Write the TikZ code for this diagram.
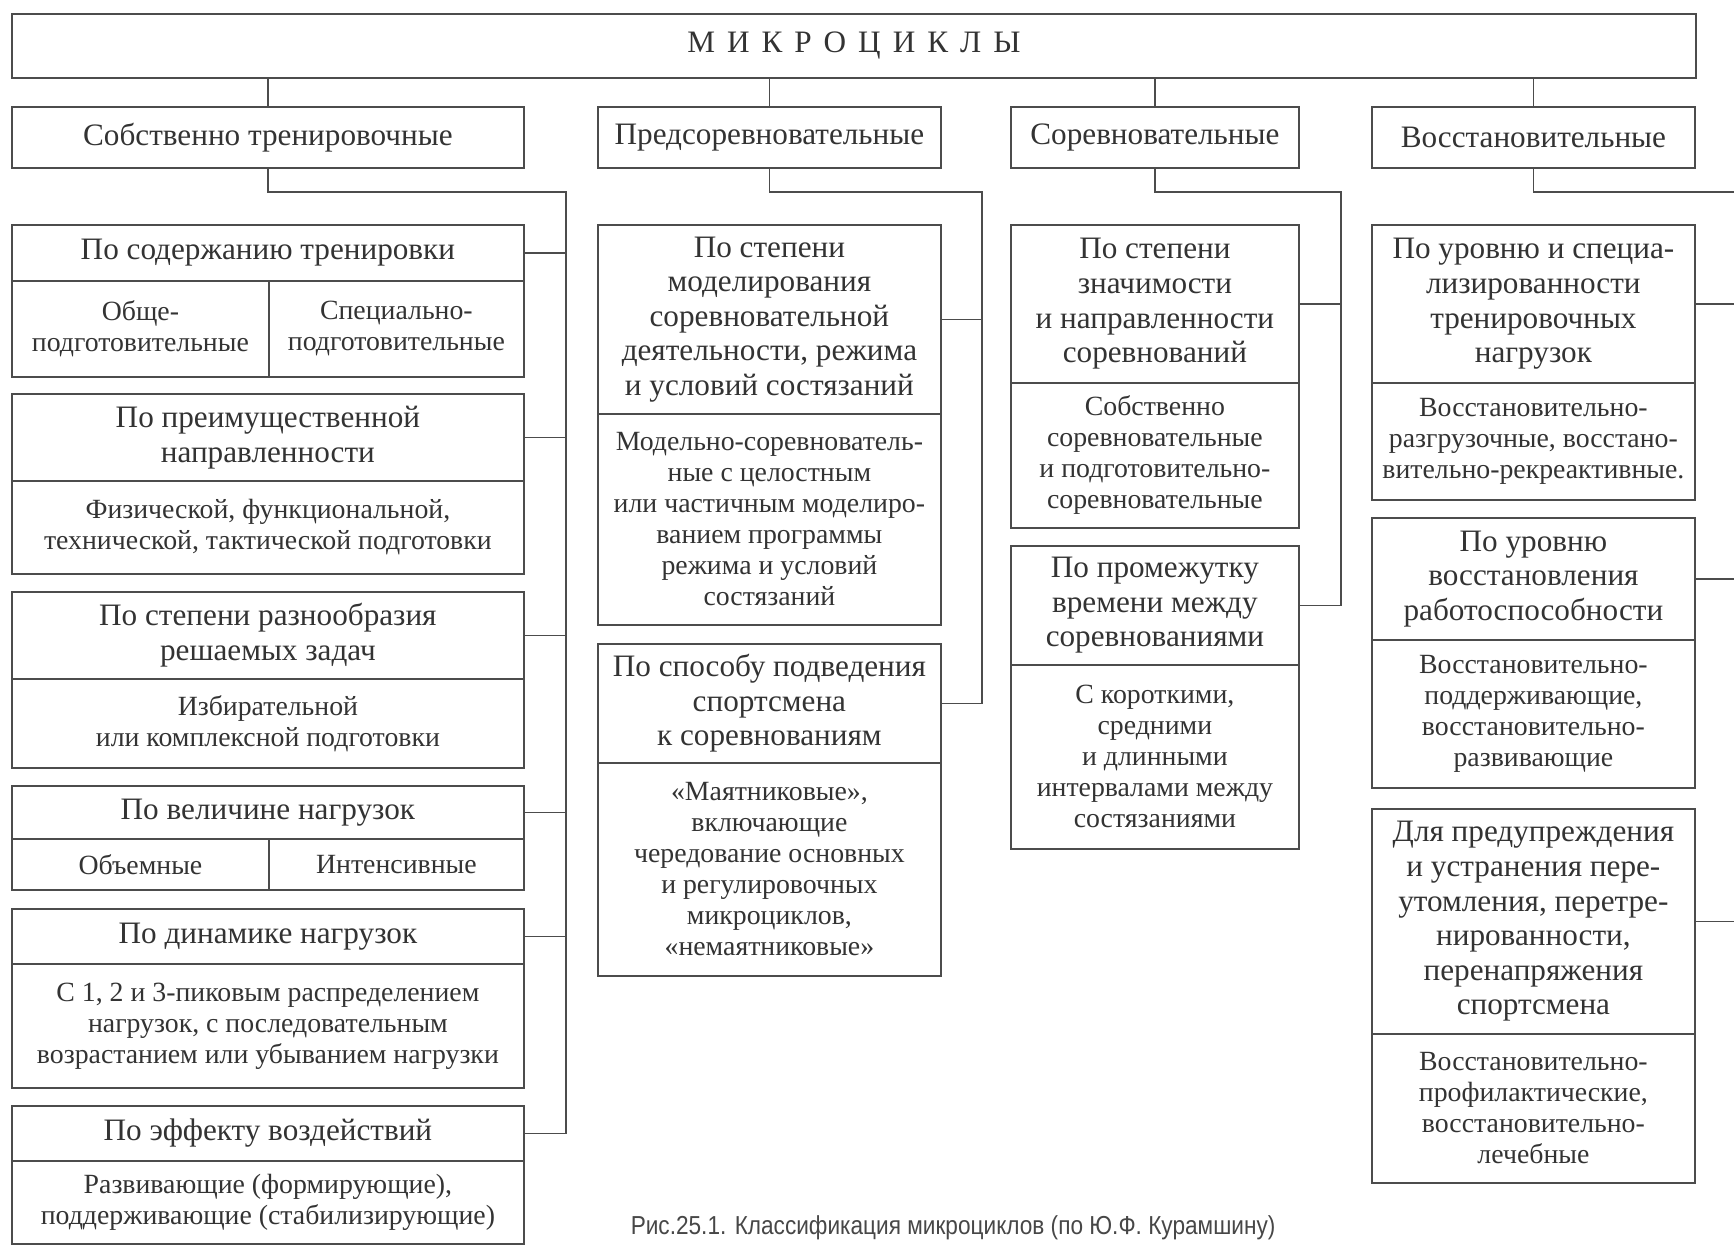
\documentclass[tikz,border=0pt]{standalone}
\usepackage{fontspec}
\setmainfont{Liberation Serif}
\newfontfamily\capfont{Liberation Sans}
\usepackage{graphicx}
\newcommand\lsp{\hspace{6pt}}
\newcommand\mybox[7]{%
  \pgfmathsetmacro\myw{(#5-#3)*0.5}%
  \pgfmathsetmacro\myh{(#6-#4)*0.5}%
  \node[#2, anchor=north west, minimum width=\myw pt, minimum height=\myh pt] (#1) at (#3,#4) {#7};}
\tikzset{
  ln/.style={draw=black!70, line width=0.9pt},
  hdr/.style={ln, rectangle, inner sep=0pt, align=center, text=black!80,
    font=\fontsize{15.6}{17.3}\selectfont},
  cnt/.style={ln, rectangle, inner sep=0pt, align=center, text=black!80,
    font=\fontsize{13.9}{15.5}\selectfont},
  conn/.style={draw=black!70, line width=0.9pt},
}
\begin{document}
\begin{tikzpicture}[x=0.5pt,y=-0.5pt]
\fill[white] (0,0) rectangle (1734,1246);
\useasboundingbox (0,0) rectangle (1734,1246);

% title and level 1
\mybox{title}{hdr}{11}{13}{1695}{77}{М\lsp И\lsp К\lsp Р\lsp О\lsp Ц\lsp И\lsp К\lsp Л\lsp Ы}
\mybox{l1a}{hdr}{11}{106}{523}{167}{Собственно тренировочные}
\mybox{l1b}{hdr}{597}{106}{940}{167}{Предсоревновательные}
\mybox{l1c}{hdr}{1010}{106}{1298}{167}{Соревновательные}
\mybox{l1d}{hdr}{1371}{106}{1694}{167}{Восстановительные}

% column 1
\mybox{a1h}{hdr}{11}{224}{523}{280}{По содержанию тренировки}
\mybox{a1l}{cnt}{11}{280}{268}{376}{Обще-\\подготовительные}
\mybox{a1r}{cnt}{268}{280}{523}{376}{Специально-\\подготовительные}
\mybox{a2h}{hdr}{11}{393}{523}{480}{По преимущественной\\направленности}
\mybox{a2c}{cnt}{11}{480}{523}{573}{Физической, функциональной,\\технической, тактической подготовки}
\mybox{a3h}{hdr}{11}{591}{523}{678}{По степени разнообразия\\решаемых задач}
\mybox{a3c}{cnt}{11}{678}{523}{767}{Избирательной\\или комплексной подготовки}
\mybox{a4h}{hdr}{11}{785}{523}{838}{По величине нагрузок}
\mybox{a4l}{cnt}{11}{838}{268}{889}{Объемные}
\mybox{a4r}{cnt}{268}{838}{523}{889}{Интенсивные}
\mybox{a5h}{hdr}{11}{908}{523}{963}{По динамике нагрузок}
\mybox{a5c}{cnt}{11}{963}{523}{1087}{С 1, 2 и 3-пиковым распределением\\нагрузок, с последовательным\\возрастанием или убыванием нагрузки}
\mybox{a6h}{hdr}{11}{1105}{523}{1160}{По эффекту воздействий}
\mybox{a6c}{cnt}{11}{1160}{523}{1243}{Развивающие (формирующие),\\поддерживающие (стабилизирующие)}

% column 2
\mybox{b1h}{hdr}{597}{224}{940}{413}{По степени\\моделирования\\соревновательной\\деятельности, режима\\и условий состязаний}
\mybox{b1c}{cnt}{597}{413}{940}{624}{Модельно-соревнователь-\\ные с целостным\\или частичным моделиро-\\ванием программы\\режима и условий\\состязаний}
\mybox{b2h}{hdr}{597}{643}{940}{762}{По способу подведения\\спортсмена\\к соревнованиям}
\mybox{b2c}{cnt}{597}{762}{940}{975}{«Маятниковые»,\\включающие\\чередование основных\\и регулировочных\\микроциклов,\\«немаятниковые»}

% column 3
\mybox{c1h}{hdr}{1010}{224}{1298}{382}{По степени\\значимости\\и направленности\\соревнований}
\mybox{c1c}{cnt}{1010}{382}{1298}{527}{Собственно\\соревновательные\\и подготовительно-\\соревновательные}
\mybox{c2h}{hdr}{1010}{545}{1298}{664}{По промежутку\\времени между\\соревнованиями}
\mybox{c2c}{cnt}{1010}{664}{1298}{848}{С короткими,\\средними\\и длинными\\интервалами между\\состязаниями}

% column 4
\mybox{d1h}{hdr}{1371}{224}{1694}{382}{По уровню и специа-\\лизированности\\тренировочных\\нагрузок}
\mybox{d1c}{cnt}{1371}{382}{1694}{499}{Восстановительно-\\разгрузочные, восстано-\\вительно-рекреактивные.}
\mybox{d2h}{hdr}{1371}{517}{1694}{639}{По уровню\\восстановления\\работоспособности}
\mybox{d2c}{cnt}{1371}{639}{1694}{787}{Восстановительно-\\поддерживающие,\\восстановительно-\\развивающие}
\mybox{d3h}{hdr}{1371}{808}{1694}{1033}{Для предупреждения\\и устранения пере-\\утомления, перетре-\\нированности,\\перенапряжения\\спортсмена}
\mybox{d3c}{cnt}{1371}{1033}{1694}{1182}{Восстановительно-\\профилактические,\\восстановительно-\\лечебные}

% caption
\node[font=\capfont\fontsize{13}{15}\selectfont, text=black!72] (cap) at (953,1228)
  {\scalebox{0.87}[1]{Рис.25.1. Классификация микроциклов (по Ю.Ф. Курамшину)}};

% connectors from title
\foreach \n in {l1a,l1b,l1c,l1d}
  \draw[conn] (title.south -| \n.north) -- (\n.north);

% spines
\coordinate (s1) at (566,192);
\coordinate (s2) at (982,192);
\coordinate (s3) at (1341,192);
\coordinate (s4) at (1734,192);

\draw[conn] (l1a.south) |- (s1) -- (s1 |- a6h.east) -- (a6h.east);
\foreach \n in {a1h,a2h,a3h,a4h,a5h}
  \draw[conn] (\n.east) -- (\n.east -| s1);

\draw[conn] (l1b.south) |- (s2) -- (s2 |- b2h.east) -- (b2h.east);
\draw[conn] (b1h.east) -- (b1h.east -| s2);

\draw[conn] (l1c.south) |- (s3) -- (s3 |- c2h.east) -- (c2h.east);
\draw[conn] (c1h.east) -- (c1h.east -| s3);

\draw[conn] (l1d.south) |- (s4);
\foreach \n in {d1h,d2h,d3h}
  \draw[conn] (\n.east) -- (\n.east -| s4);
\end{tikzpicture}
\end{document}
